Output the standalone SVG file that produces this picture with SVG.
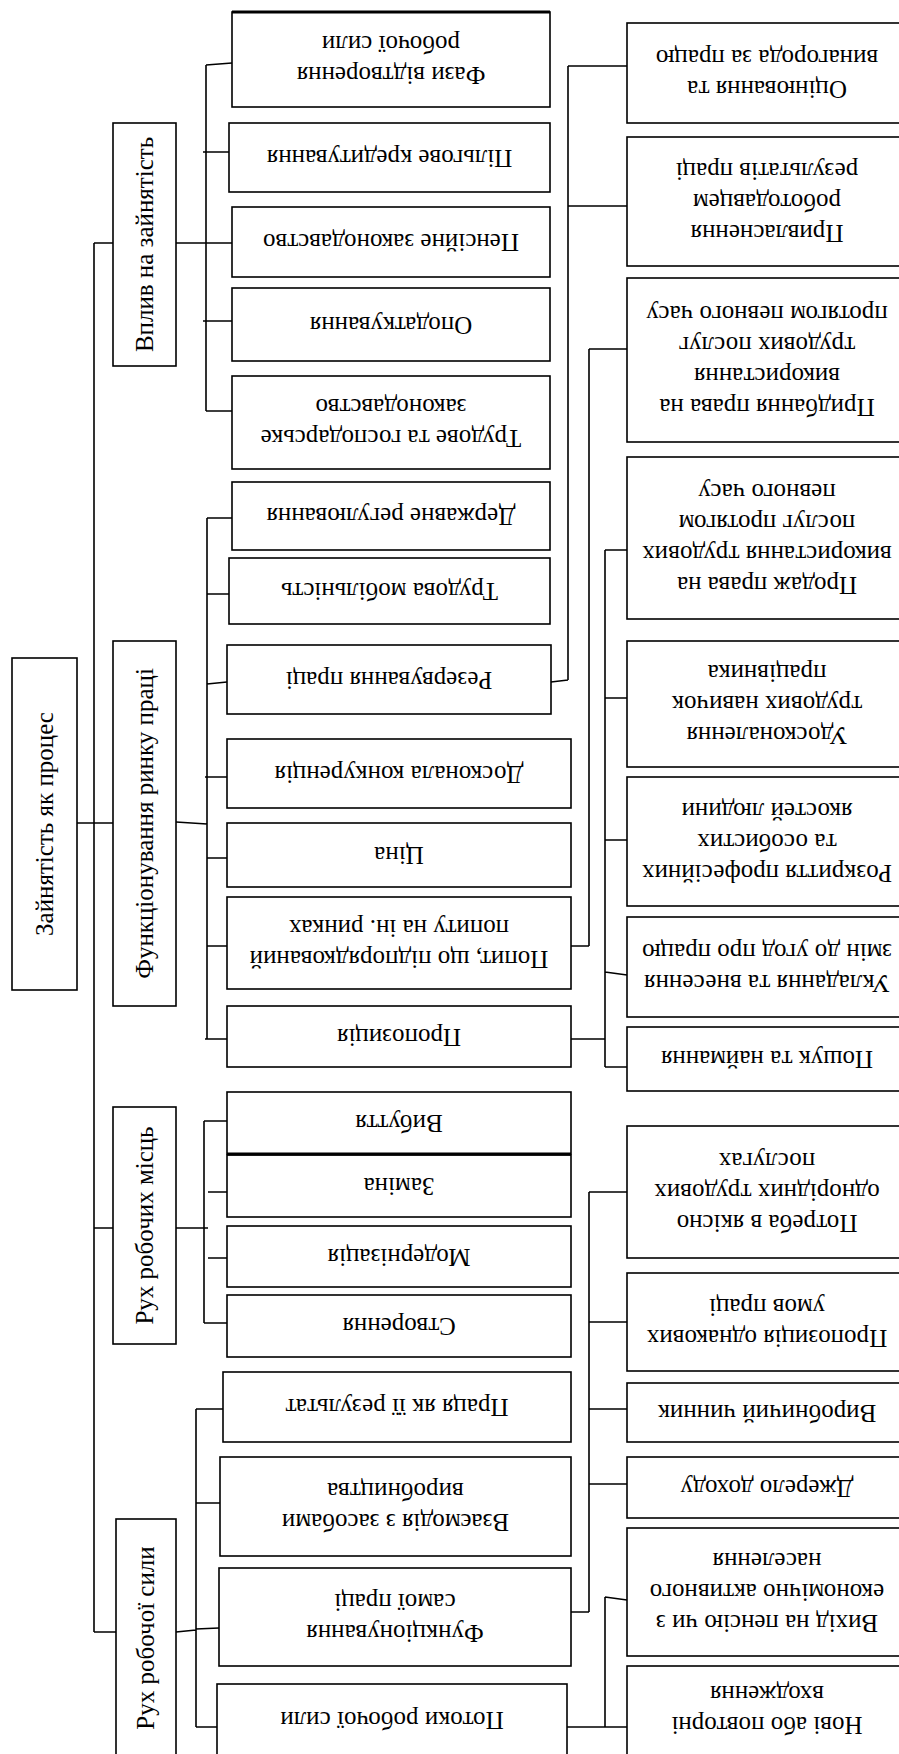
<svg xmlns="http://www.w3.org/2000/svg" width="899" height="1754" viewBox="0 0 899 1754">
<style>
.box{fill:#fff;stroke:#000;stroke-width:1.6}
.thick{stroke:#000;stroke-width:3.2;fill:none}
.t{font-family:"Liberation Serif","Times New Roman",serif;font-size:25px;fill:#000;text-anchor:middle}
.c{stroke:#000;stroke-width:1.6;fill:none}
</style>
<rect x="0" y="0" width="899" height="1754" fill="#fff"/>
<g id="connectors">
<path class="c" d="M94,243 V1632 M94,243 H113 M77,823 H113 M94,1228 H113 M94,1632 H116"/>
<path class="c" d="M176,243 H206 M206,65 V411 M206,65 L232,63 M203,152 H229 M206,243 H232 M203,321 H232 M206,411 H232"/>
<path class="c" d="M176,822 L207,824 M207,518 V1039 M207,518 H232 M207,594 H229 M207,684 L227,682 M205,777 H227 M207,858 H227 M207,946 H227 M205,1039 H227"/>
<path class="c" d="M176,1228 H208 M204,1121 V1323 M204,1121 H227 M208,1192 H232 M208,1258 H227 M204,1323 H227"/>
<path class="c" d="M176,1632 L196,1630 M196,1409 V1727 M196,1409 H223 M196,1503 H220 M196,1629 L219,1628 M196,1727 H217"/>
<path class="c" d="M568,66 V680 M551,682 L568,680 M568,66 H627 M568,206 H627"/>
<path class="c" d="M589,349 V946 M571,946 H589 M589,349 H627"/>
<path class="c" d="M605,550 V1067 M571,1039 H605 M605,550 H627 M605,698 H627 M605,840 H627 M605,972 L627,975 M605,1067 H627"/>
<path class="c" d="M589,1192 V1612 M571,1612 H589 M589,1192 H627 M589,1322 H627 M589,1409 H627 M589,1484 H627"/>
<path class="c" d="M605,1597 V1727 M567,1727 H627 M605,1597 L627,1600"/>
</g>
<g id="root"><rect class="box" x="12" y="658" width="65" height="332"/><text class="t" x="44.5" y="832" transform="rotate(-90 44.5 824)">Зайнятість як процес</text></g>
<g id="g1"><rect class="box" x="113" y="123" width="63" height="243"/><text class="t" x="144.5" y="252.5" transform="rotate(-90 144.5 244.5)">Вплив на зайнятість</text></g>
<g id="g2"><rect class="box" x="113" y="641" width="63" height="365"/><text class="t" x="144.5" y="831.5" transform="rotate(-90 144.5 823.5)">Функціонування ринку праці</text></g>
<g id="g3"><rect class="box" x="113" y="1107" width="63" height="237"/><text class="t" x="144.5" y="1233.5" transform="rotate(-90 144.5 1225.5)">Рух робочих місць</text></g>
<g id="g4"><rect class="box" x="116" y="1519" width="60" height="260"/><text class="t" x="146" y="1646" transform="rotate(-90 146 1638)">Рух робочої сили</text></g>

<g id="m1"><rect class="box" x="232" y="12" width="318" height="95"/><line class="thick" x1="232" y1="12" x2="550" y2="12"/><g transform="rotate(180 391 59.5)"><text class="t" x="391" y="52">Фази відтворення</text><text class="t" x="391" y="83">робочої сили</text></g></g>
<g id="m2"><rect class="box" x="229" y="123" width="321" height="69"/><text class="t" x="389.5" y="165.5" transform="rotate(180 389.5 157.5)">Пільгове кредитування</text></g>
<g id="m3"><rect class="box" x="232" y="207" width="318" height="70"/><text class="t" x="391" y="250" transform="rotate(180 391 242)">Пенсійне законодавство</text></g>
<g id="m4"><rect class="box" x="232" y="288" width="318" height="73"/><text class="t" x="391" y="332.5" transform="rotate(180 391 324.5)">Оподаткування</text></g>
<g id="m5"><rect class="box" x="232" y="376" width="318" height="93"/><g transform="rotate(180 391 422.5)"><text class="t" x="391" y="415">Трудове та господарське</text><text class="t" x="391" y="446">законодавство</text></g></g>
<g id="m6"><rect class="box" x="232" y="482" width="318" height="68"/><text class="t" x="391" y="524" transform="rotate(180 391 516)">Державне регулювання</text></g>
<g id="m7"><rect class="box" x="229" y="558" width="321" height="66"/><text class="t" x="389.5" y="599" transform="rotate(180 389.5 591)">Трудова мобільність</text></g>
<g id="m8"><rect class="box" x="227" y="645" width="324" height="69"/><text class="t" x="389" y="687.5" transform="rotate(180 389 679.5)">Резервування праці</text></g>
<g id="m9"><rect class="box" x="227" y="739" width="344" height="69"/><text class="t" x="399" y="781.5" transform="rotate(180 399 773.5)">Досконала конкуренція</text></g>
<g id="m10"><rect class="box" x="227" y="823" width="344" height="64"/><text class="t" x="399" y="863" transform="rotate(180 399 855)">Ціна</text></g>
<g id="m11"><rect class="box" x="227" y="897" width="344" height="92"/><g transform="rotate(180 399 943)"><text class="t" x="399" y="935.5">Попит, що підпорядкований</text><text class="t" x="399" y="966.5">попиту на ін. ринках</text></g></g>
<g id="m12"><rect class="box" x="227" y="1006" width="344" height="61"/><text class="t" x="399" y="1044.5" transform="rotate(180 399 1036.5)">Пропозиція</text></g>
<g id="m13"><rect class="box" x="227" y="1092" width="344" height="62"/><text class="t" x="399" y="1131" transform="rotate(180 399 1123)">Вибуття</text></g>
<g id="m14"><rect class="box" x="227" y="1155" width="344" height="62"/><line class="thick" x1="227" y1="1154" x2="571" y2="1154"/><text class="t" x="399" y="1194" transform="rotate(180 399 1186)">Заміна</text></g>
<g id="m15"><rect class="box" x="227" y="1226" width="344" height="61"/><text class="t" x="399" y="1264.5" transform="rotate(180 399 1256.5)">Модернізація</text></g>
<g id="m16"><rect class="box" x="227" y="1295" width="344" height="62"/><text class="t" x="399" y="1334" transform="rotate(180 399 1326)">Створення</text></g>
<g id="m17"><rect class="box" x="223" y="1372" width="348" height="70"/><text class="t" x="397" y="1415" transform="rotate(180 397 1407)">Праця як її результат</text></g>
<g id="m18"><rect class="box" x="220" y="1457" width="351" height="99"/><g transform="rotate(180 395.5 1506.5)"><text class="t" x="395.5" y="1499">Взаємодія з засобами</text><text class="t" x="395.5" y="1530">виробництва</text></g></g>
<g id="m19"><rect class="box" x="219" y="1568" width="352" height="98"/><g transform="rotate(180 395 1617)"><text class="t" x="395" y="1609.5">Функціонування</text><text class="t" x="395" y="1640.5">самої праці</text></g></g>
<g id="m20"><rect class="box" x="217" y="1684" width="350" height="90"/><text class="t" x="392" y="1728" transform="rotate(180 392 1720)">Потоки робочої сили</text></g>

<g id="r1"><rect class="box" x="627" y="23" width="280" height="100"/><g transform="rotate(180 767 73)"><text class="t" x="767" y="65.5">Оцінювання та</text><text class="t" x="767" y="96.5">винагорода за працю</text></g></g>
<g id="r2"><rect class="box" x="627" y="137" width="280" height="129"/><g transform="rotate(180 767 201.5)"><text class="t" x="767" y="178.5">Привласнення</text><text class="t" x="767" y="209.5">роботодавцем</text><text class="t" x="767" y="240.5">результатів праці</text></g></g>
<g id="r3"><rect class="box" x="627" y="278" width="280" height="164"/><g transform="rotate(180 767 360)"><text class="t" x="767" y="321.5">Придбання права на</text><text class="t" x="767" y="352.5">використання</text><text class="t" x="767" y="383.5">трудових послуг</text><text class="t" x="767" y="414.5">протягом певного часу</text></g></g>
<g id="r4"><rect class="box" x="627" y="457" width="280" height="162"/><g transform="rotate(180 767 538)"><text class="t" x="767" y="499.5">Продаж права на</text><text class="t" x="767" y="530.5">використання трудових</text><text class="t" x="767" y="561.5">послуг протягом</text><text class="t" x="767" y="592.5">певного часу</text></g></g>
<g id="r5"><rect class="box" x="627" y="641" width="280" height="126"/><g transform="rotate(180 767 704)"><text class="t" x="767" y="681">Удосконалення</text><text class="t" x="767" y="712">трудових навичок</text><text class="t" x="767" y="743">працівника</text></g></g>
<g id="r6"><rect class="box" x="627" y="777" width="280" height="129"/><g transform="rotate(180 767 841.5)"><text class="t" x="767" y="818.5">Розкриття професійних</text><text class="t" x="767" y="849.5">та особистих</text><text class="t" x="767" y="880.5">якостей людини</text></g></g>
<g id="r7"><rect class="box" x="627" y="917" width="280" height="100"/><g transform="rotate(180 767 967)"><text class="t" x="767" y="959.5">Укладання та внесення</text><text class="t" x="767" y="990.5">змін до угод про працю</text></g></g>
<g id="r8"><rect class="box" x="627" y="1027" width="280" height="64"/><text class="t" x="767" y="1067" transform="rotate(180 767 1059)">Пошук та наймання</text></g>
<g id="r9"><rect class="box" x="627" y="1126" width="280" height="132"/><g transform="rotate(180 767 1192)"><text class="t" x="767" y="1169">Потреба в якісно</text><text class="t" x="767" y="1200">однорідних трудових</text><text class="t" x="767" y="1231">послугах</text></g></g>
<g id="r10"><rect class="box" x="627" y="1273" width="280" height="98"/><g transform="rotate(180 767 1322)"><text class="t" x="767" y="1314.5">Пропозиція однакових</text><text class="t" x="767" y="1345.5">умов праці</text></g></g>
<g id="r11"><rect class="box" x="627" y="1383" width="280" height="59"/><text class="t" x="767" y="1420.5" transform="rotate(180 767 1412.5)">Виробничий чинник</text></g>
<g id="r12"><rect class="box" x="627" y="1457" width="280" height="61"/><text class="t" x="767" y="1495.5" transform="rotate(180 767 1487.5)">Джерело доходу</text></g>
<g id="r13"><rect class="box" x="627" y="1528" width="280" height="128"/><g transform="rotate(180 767 1592)"><text class="t" x="767" y="1569">Вихід на пенсію чи з</text><text class="t" x="767" y="1600">економічно активного</text><text class="t" x="767" y="1631">населення</text></g></g>
<g id="r14"><rect class="box" x="627" y="1666" width="280" height="100"/><g transform="rotate(180 767 1709)"><text class="t" x="767" y="1701.5">Нові або повторні</text><text class="t" x="767" y="1732.5">входження</text></g></g>
</svg>
